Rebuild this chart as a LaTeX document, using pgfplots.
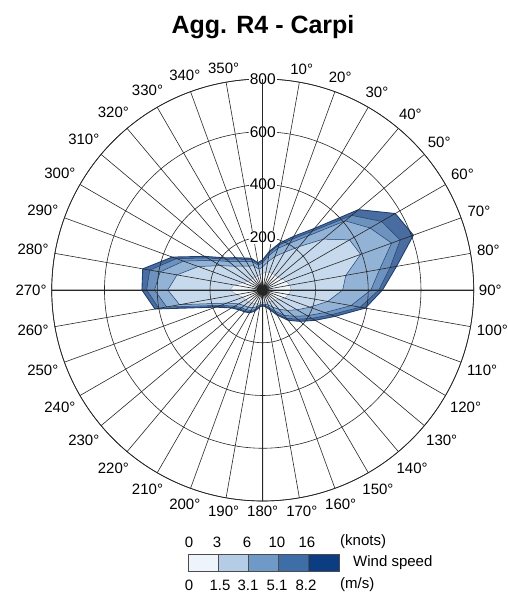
\documentclass[border=0pt]{standalone}
\usepackage{pgfplots}
\pgfplotsset{compat=1.18}
\usepgfplotslibrary{polar}
\usepackage{pgfplotstable}
\usepackage{fontspec}
\setmainfont{Liberation Sans}
\definecolor{l1}{HTML}{EEF4FB}
\definecolor{l2}{HTML}{B4CCE6}
\definecolor{l3}{HTML}{6F9AC8}
\definecolor{l4}{HTML}{3D6EA8}
\definecolor{l5}{HTML}{0C3D82}
\definecolor{edge}{HTML}{1F3F6F}
\colorlet{f1}{l1!75!white}
\colorlet{f2}{l2!75!white}
\colorlet{f3}{l3!75!white}
\colorlet{f4}{l4!75!white}
\colorlet{f5}{l5!75!white}

\pgfplotstableread{
dir c1 c2 c3 c4 c5
0 63 88 103 110 115
10 68 108 132 143 150
20 72 135 168 182 190
30 72 165 205 222 235
40 74 215 268 290 305
50 75 300 408 440 474
60 85 380 470 520 580
70 95 395 520 555 608
80 105 320 450 490 515
90 108 303 410 440 454
100 100 250 340 375 395
110 90 190 250 275 292
120 70 150 195 215 230
130 60 120 155 172 185
140 55 95 125 140 150
150 50 75 92 102 110
160 48 60 70 76 80
170 47 55 60 63 65
180 48 54 57 59 60
190 50 57 61 63 65
200 55 68 77 82 85
210 60 78 90 96 100
220 65 85 97 104 108
230 70 92 105 112 117
240 75 105 122 130 136
250 80 145 170 182 190
260 100 320 370 400 415
270 125 360 410 440 458
280 110 330 395 435 462
290 80 260 320 348 365
300 65 185 225 243 255
310 60 140 168 181 190
320 58 118 142 153 160
330 57 105 125 134 140
340 57 97 114 122 128
350 58 80 95 101 105
360 63 88 103 110 115
}\rose

\begin{document}
\begin{tikzpicture}[x=1pt,y=1pt]
\begin{polaraxis}[
  at={(-1,0)}, anchor=center,
  width=422pt, height=422pt, scale only axis,
  xmin=90, xmax=450, ymin=0, ymax=800,
  xtick={100,110,...,450},
  xticklabel={\pgfmathparse{int(round(mod(450-\tick,360)))}\pgfmathresult°},
  xticklabel style={font=\fontsize{15}{15}\selectfont, inner sep=5pt},
  ytick={200,400,600,800},
  yticklabels={200,400,600,800},
  yticklabel style={anchor=center, fill=white, inner sep=1pt, font=\fontsize{15.5}{15.5}\selectfont},
  major tick length=0pt,
  grid=major,
  major grid style={draw=black!85, line width=0.6pt},
  axis line style={draw=black!85, line width=0.7pt},
  extra x ticks={90,180,270,360},
  extra x tick labels={},
  extra x tick style={grid style={draw=black, line width=1.1pt}},
  axis on top,
  no markers,
]
\addplot[fill=f5, draw=edge, line width=0.9pt] table[x expr=450-\thisrow{dir}, y=c5] {\rose};
\addplot[fill=f4, draw=edge, line width=0.5pt] table[x expr=450-\thisrow{dir}, y=c4] {\rose};
\addplot[fill=f3, draw=edge, line width=0.5pt] table[x expr=450-\thisrow{dir}, y=c3] {\rose};
\addplot[fill=f2, draw=edge, line width=0.5pt] table[x expr=450-\thisrow{dir}, y=c2] {\rose};
\addplot[fill=f1, draw=edge!60, line width=0.3pt] table[x expr=450-\thisrow{dir}, y=c1] {\rose};
\end{polaraxis}
\node[anchor=base, font=\bfseries\fontsize{25}{25}\selectfont] at (0,257) {Agg. R4 - Carpi};
\fill[l1] (-75,-281) rectangle (-44.8,-264);
\fill[l2] (-44.8,-281) rectangle (-14.6,-264);
\fill[l3] (-14.6,-281) rectangle (15.6,-264);
\fill[l4] (15.6,-281) rectangle (45.8,-264);
\fill[l5] (45.8,-281) rectangle (76,-264);
\draw[black!70, line width=0.6pt] (-75,-281) rectangle (76,-264);
\foreach \xx in {-44.8,-14.6,15.6,45.8} \draw[black!70, line width=0.6pt] (\xx,-281) -- (\xx,-264);
\begin{scope}[every node/.style={font=\fontsize{15}{15}\selectfont, inner sep=0pt}]
\node at (-74,-252) {0};
\node at (-46,-252) {3};
\node at (-16,-252) {6};
\node at (14,-252) {10};
\node at (44,-252) {16};
\node[anchor=west] at (77,-252) {(knots)};
\node at (-74,-295) {0};
\node at (-43,-295) {1.5};
\node at (-15,-295) {3.1};
\node at (14,-295) {5.1};
\node at (43,-295) {8.2};
\node[anchor=west] at (77,-295) {(m/s)};
\node[anchor=west] at (90,-273) {Wind speed};
\end{scope}
\pgfresetboundingbox
\useasboundingbox (-263,-305) rectangle (245,290);
\end{tikzpicture}
\end{document}
